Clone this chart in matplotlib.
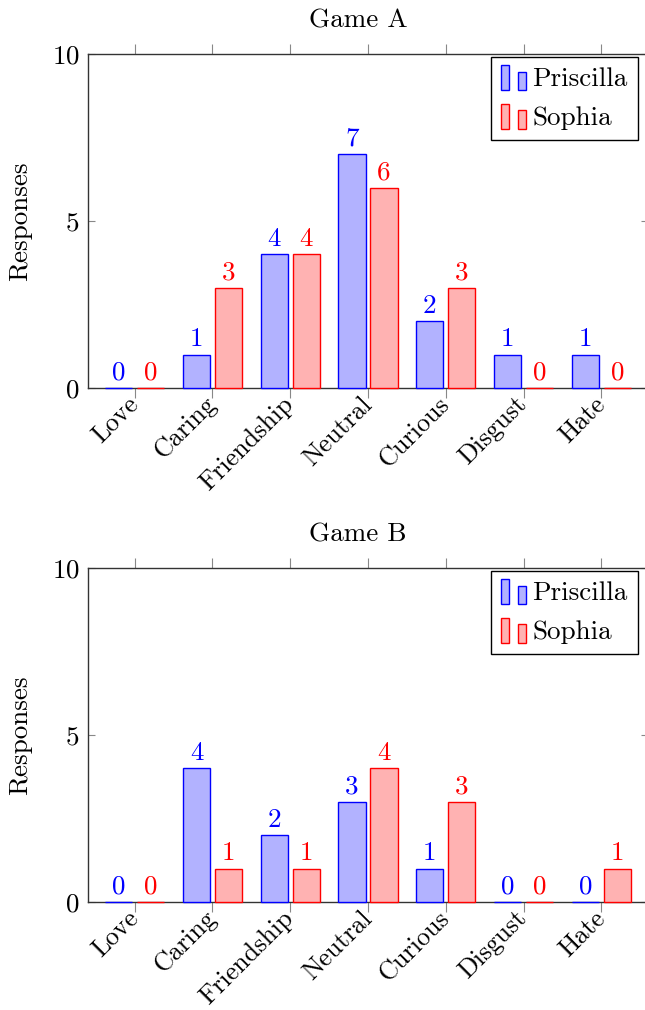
import matplotlib
matplotlib.use('Agg')
import matplotlib.pyplot as plt
import numpy as np
from matplotlib.patches import Rectangle
from matplotlib.legend_handler import HandlerBase

plt.rcParams['font.family'] = ['cmr10', 'DejaVu Serif']
plt.rcParams['mathtext.fontset'] = 'cm'
plt.rcParams['axes.formatter.use_mathtext'] = True

categories = ['Love', 'Caring', 'Friendship', 'Neutral', 'Curious', 'Disgust', 'Hate']
titles = ['Game A', 'Game B']
priscilla = [[0, 1, 4, 7, 2, 1, 1],
             [0, 4, 2, 3, 1, 0, 0]]
sophia = [[0, 3, 4, 6, 3, 0, 0],
          [0, 1, 1, 4, 3, 0, 1]]
series_names = ['Priscilla', 'Sophia']
edge_colors = ['blue', 'red']
fill_colors = ['#b2b2ff', '#ffb2b2']

FS = 19.5


class TwoBarHandler(HandlerBase):
    def create_artists(self, legend, orig_handle, xdescent, ydescent,
                       width, height, fontsize, trans):
        fc = orig_handle.get_facecolor()
        ec = orig_handle.get_edgecolor()
        h = height * 1.3
        y0 = -ydescent - height * 0.2
        w = width * 0.33
        r1 = Rectangle((-xdescent, y0), w, h, facecolor=fc, edgecolor=ec,
                       linewidth=1, transform=trans)
        r2 = Rectangle((-xdescent + width * 0.67, y0), w, h * 0.75, facecolor=fc,
                       edgecolor=ec, linewidth=1, transform=trans)
        return [r1, r2]


fig = plt.figure(figsize=(6.45, 10.1), dpi=100)

W, H = 645, 1010
x = np.arange(len(categories))
bw = 0.35
off = 0.205

for k, (top_px, bot_px) in enumerate([(54, 388), (568, 902)]):
    ax = fig.add_axes([88 / W, 1 - bot_px / H, 560 / W, (bot_px - top_px) / H])
    handles = []
    for s, vals in enumerate([priscilla[k], sophia[k]]):
        pos = x - off if s == 0 else x + off
        b = ax.bar(pos, vals, bw, color=fill_colors[s], edgecolor=edge_colors[s],
                   linewidth=1, zorder=3, label=series_names[s], clip_on=False)
        handles.append(b.patches[0])
        for p, v in zip(pos, vals):
            ax.annotate(str(v), (p, v), xytext=(0, 6), textcoords='offset points',
                        ha='center', va='baseline', color=edge_colors[s], fontsize=FS)

    ax.set_xlim(-0.6, 6.6)
    ax.set_ylim(0, 10)
    ax.set_yticks([0, 5, 10])
    ax.set_xticks(x)
    ax.set_xticklabels(categories, rotation=45, ha='right', va='center',
                       rotation_mode='anchor', fontsize=18.8)
    ax.tick_params(axis='x', direction='out', length=7, color='#888888',
                   top=True, bottom=True, pad=2)
    ax.tick_params(axis='y', direction='in', length=5, color='#888888',
                   left=True, right=True, labelsize=FS, pad=6)
    for sp in ax.spines.values():
        sp.set_linewidth(1)
        sp.set_color('#333333')
        sp.set_zorder(2)

    ax.set_ylabel('Responses', fontsize=FS)
    ax.yaxis.set_label_coords(-0.1, 0.5)
    ax.set_title(titles[k], fontsize=FS, x=0.482, pad=19)

    leg = ax.legend(handles, series_names, loc='upper right',
                    bbox_to_anchor=(638 / W, 1 - (top_px + 3) / H),
                    bbox_transform=fig.transFigure, borderaxespad=0,
                    fontsize=FS, fancybox=False, framealpha=1,
                    edgecolor='black', handler_map={Rectangle: TwoBarHandler()},
                    handlelength=0.9, handletextpad=0.25, labelspacing=0.55,
                    borderpad=0.38)
    leg.get_frame().set_linewidth(1)

fig.savefig('out.png', dpi=100)
